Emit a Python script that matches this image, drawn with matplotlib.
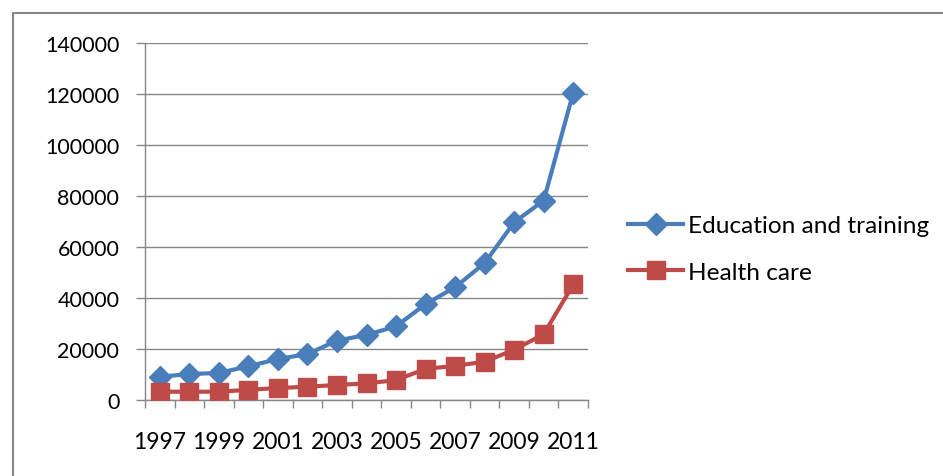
import matplotlib
matplotlib.use("Agg")
import matplotlib.pyplot as plt
from matplotlib.patches import Rectangle
from matplotlib.lines import Line2D

years = list(range(1997, 2012))
education = [9100, 10200, 10600, 13200, 16100, 18000, 23300, 25500, 28900,
             37600, 44200, 53700, 69700, 78200, 120500]
health = [3250, 3250, 3250, 4000, 4700, 5200, 5900, 6500, 7800,
          12200, 13400, 15000, 19700, 25800, 45300]
series_names = ["Education and training", "Health care"]
yticks = [0, 20000, 40000, 60000, 80000, 100000, 120000, 140000]

plt.rcParams['font.family'] = ['Lato', 'DejaVu Sans']

fig = plt.figure(figsize=(9.43, 4.77), dpi=100)
ax = fig.add_axes([145/943, 1-401/477, (588-145)/943, (401-44)/477])

# outer chart border
fig.patches.append(Rectangle((13/943, -0.1), 1.2, 1-14/477+0.1, transform=fig.transFigure,
                             fill=False, edgecolor="#868686", linewidth=1.5))

x = list(range(len(years)))
blue = "#4A7EBB"
red = "#BE4B48"
ax.plot(x, education, color=blue, lw=3, marker="D", ms=11.5, mfc=blue, mec=blue,
        label=series_names[0], solid_joinstyle="round", zorder=3)
ax.plot(x, health, color=red, lw=3, marker="s", ms=13, mfc=red, mec=red,
        label=series_names[1], solid_joinstyle="round", zorder=3)

ax.set_xlim(-0.5, len(years) - 0.5)
ax.set_ylim(0, 140000)
ax.set_yticks(yticks)
ax.set_yticklabels([str(v) for v in yticks])
ax.yaxis.grid(True, color="#868686", lw=1)
ax.set_axisbelow(True)

ax.set_xticks([i for i in x if i % 2 == 0])
ax.set_xticklabels([str(years[i]) for i in x if i % 2 == 0])
ax.set_xticks([i - 0.5 for i in range(len(years) + 1)], minor=True)
ax.tick_params(axis="x", which="major", length=0, pad=22, labelsize=16.5)
ax.tick_params(axis="x", which="minor", length=6, color="#868686", width=1)
ax.tick_params(axis="y", length=6.5, color="#868686", width=1, labelsize=15.5, pad=12)

for s in ["top", "right"]:
    ax.spines[s].set_visible(False)
for s in ["left", "bottom"]:
    ax.spines[s].set_color("#868686")
    ax.spines[s].set_linewidth(1)

handles = [Line2D([], [], color=blue, lw=3, marker="D", ms=11.5),
           Line2D([], [], color=red, lw=3, marker="s", ms=13)]
fig.legend(handles, series_names, loc="center left", bbox_to_anchor=(606/943, 1-250/477),
           frameon=False, fontsize=17.6, handlelength=2.25, handletextpad=0.2,
           labelspacing=1.05)

fig.savefig("out.png", dpi=100)
